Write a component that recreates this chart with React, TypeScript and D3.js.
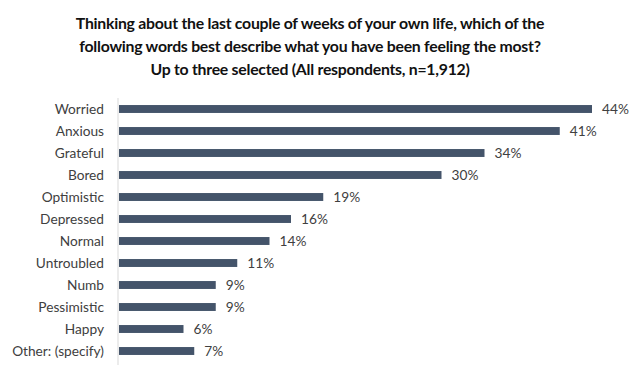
import React, { useEffect, useRef } from "react";
import * as d3 from "d3";

const categories = [
  "Worried",
  "Anxious",
  "Grateful",
  "Bored",
  "Optimistic",
  "Depressed",
  "Normal",
  "Untroubled",
  "Numb",
  "Pessimistic",
  "Happy",
  "Other: (specify)",
];
const values = [44, 41, 34, 30, 19, 16, 14, 11, 9, 9, 6, 7];
const titleLines = [
  "Thinking about the last couple of weeks of your own life, which of the",
  "following words best describe what you have been feeling the most?",
  "Up to three selected (All respondents, n=1,912)",
];

const W = 640;
const H = 365;

export default function App() {
  const ref = useRef<SVGSVGElement>(null);

  useEffect(() => {
    const svg = d3.select(ref.current);
    svg.selectAll("*").remove();
    const font = "Lato, 'Open Sans', sans-serif";

    // title
    svg.append("g")
      .selectAll("text")
      .data(titleLines)
      .enter()
      .append("text")
      .attr("x", 310)
      .attr("y", (d, i) => 29 + i * 22.8)
      .attr("text-anchor", "middle")
      .attr("font-family", font)
      .attr("font-weight", "bold")
      .attr("font-size", 15.8)
      .attr("letter-spacing", -0.25)
      .attr("fill", "#111")
      .text((d) => d);

    const margin = { top: 98, left: 118 };
    const y = d3.scaleBand().domain(categories).range([margin.top, margin.top + 264]).paddingInner(0.64).paddingOuter(0.32);
    const x = d3.scaleLinear().domain([0, 44]).range([margin.left + 1, 592]);

    const g = svg.append("g");

    g.selectAll("rect")
      .data(values)
      .enter()
      .append("rect")
      .attr("x", x(0))
      .attr("y", (d, i) => y(categories[i])!)
      .attr("width", (d) => x(d) - x(0))
      .attr("height", y.bandwidth())
      .attr("fill", "#44546a");

    // axis line
    g.append("line")
      .attr("x1", margin.left)
      .attr("x2", margin.left)
      .attr("y1", margin.top)
      .attr("y2", H)
      .attr("stroke", "#d9d9d9")
      .attr("stroke-width", 1);

    // category labels
    g.selectAll(".cat")
      .data(categories)
      .enter()
      .append("text")
      .attr("class", "cat")
      .attr("x", 104)
      .attr("y", (d) => y(d)! + y.bandwidth() / 2)
      .attr("dy", "0.35em")
      .attr("text-anchor", "end")
      .attr("font-family", font)
      .attr("font-size", 13.7)
      .attr("fill", "#404040")
      .text((d) => d);

    // value labels
    g.selectAll(".val")
      .data(values)
      .enter()
      .append("text")
      .attr("class", "val")
      .attr("x", (d) => x(d) + 10)
      .attr("y", (d, i) => y(categories[i])! + y.bandwidth() / 2)
      .attr("dy", "0.35em")
      .attr("font-family", font)
      .attr("font-size", 13.7)
      .attr("fill", "#404040")
      .text((d) => d + "%");
  }, []);

  return (
    <svg
      ref={ref}
      width={W}
      height={H}
      style={{ position: "absolute", left: 0, top: 0, background: "#fff" }}
    />
  );
}
